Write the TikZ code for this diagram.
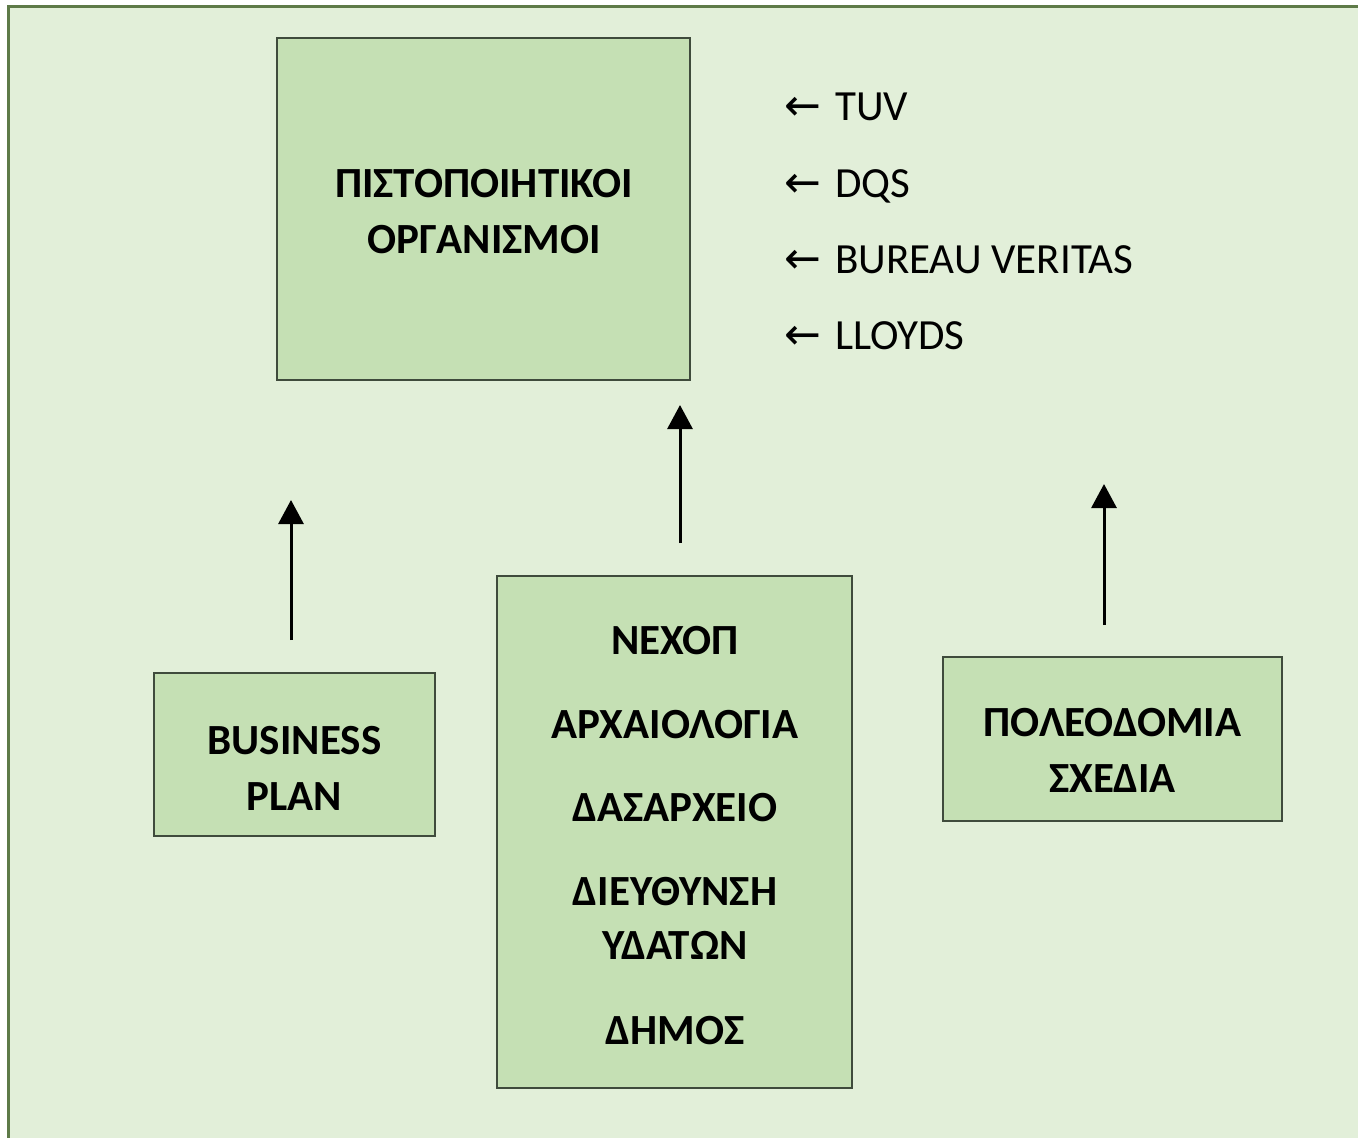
\documentclass[tikz,border=0pt]{standalone}
\usepackage{fontspec}
\setmainfont{Carlito}
\newfontfamily\arrowfont{DejaVu Sans}
\usetikzlibrary{arrows.meta,calc}
\definecolor{bg}{HTML}{E2EFD9}
\definecolor{boxfill}{HTML}{C5E0B4}
\definecolor{framecol}{HTML}{5E7A48}
\definecolor{boxline}{HTML}{3F4B3C}
\newcommand{\larr}{{\arrowfont\fontsize{44}{50}\selectfont ←}\hspace{14pt}}
\begin{document}
\begin{tikzpicture}[x=1pt,y=-1pt,
  box/.style={draw=boxline, line width=1.4pt, fill=boxfill, inner sep=0pt},
  title/.style={font=\bfseries\fontsize{43}{56}\selectfont, align=center, inner sep=0pt},
  listitem/.style={font=\fontsize{43}{50}\selectfont, anchor=base west, inner sep=0pt},
  uparrow/.style={line width=3pt, -{Triangle[width=25pt,length=24pt]}}]
\useasboundingbox (0,0) rectangle (1358,1138);
\fill[white] (0,0) rectangle (1358,1138);
\draw[framecol, line width=3.5pt, fill=bg] (8.5,6.5) rectangle (1380,1160);

% boxes
\node[box, minimum width=413pt, minimum height=342pt] (cert) at (483.5,209) {};
\node[box, minimum width=281pt, minimum height=163pt] (bp) at (294.5,754.5) {};
\node[box, minimum width=355pt, minimum height=512pt] (auth) at (674.5,832) {};
\node[box, minimum width=339pt, minimum height=164pt] (plan) at (1112.5,739) {};

% box texts
\node[title] (certtext) at (484,211.5) {ΠΙΣΤΟΠΟΙΗΤΙΚΟΙ\\ΟΡΓΑΝΙΣΜΟΙ};
\node[title] (bptext) at (294.5,768) {BUSINESS\\PLAN};
\node[title] (plantext) at (1112.5,750) {ΠΟΛΕΟΔΟΜΙΑ\\ΣΧΕΔΙΑ};
\node[title, font=\bfseries\fontsize{43}{54}\selectfont] (authtext) at (675,836)
  {ΝΕΧΟΠ\\[30pt]ΑΡΧΑΙΟΛΟΓΙΑ\\[29pt]ΔΑΣΑΡΧΕΙΟ\\[30pt]ΔΙΕΥΘΥΝΣΗ\\ΥΔΑΤΩΝ\\[31pt]ΔΗΜΟΣ};

% list of certification bodies
\node[listitem] (tuv) at (784,120.5) {\larr TUV};
\node[listitem] (dqs) at (784,197.5) {\larr DQS};
\node[listitem] (bv) at (784,273.5) {\larr BUREAU VERITAS};
\node[listitem] (lloyds) at (784,349.5) {\larr LLOYDS};

% arrows
\coordinate (bpfrom) at (291,640);
\coordinate (bpto) at (291,500);
\coordinate (authfrom) at (680,543);
\coordinate (authto) at (680,405);
\coordinate (planfrom) at (1104,625);
\coordinate (planto) at (1104,484);
\draw[uparrow] (bpfrom) -- (bpto);
\draw[uparrow] (authfrom) -- (authto);
\draw[uparrow] (planfrom) -- (planto);
\end{tikzpicture}
\end{document}
